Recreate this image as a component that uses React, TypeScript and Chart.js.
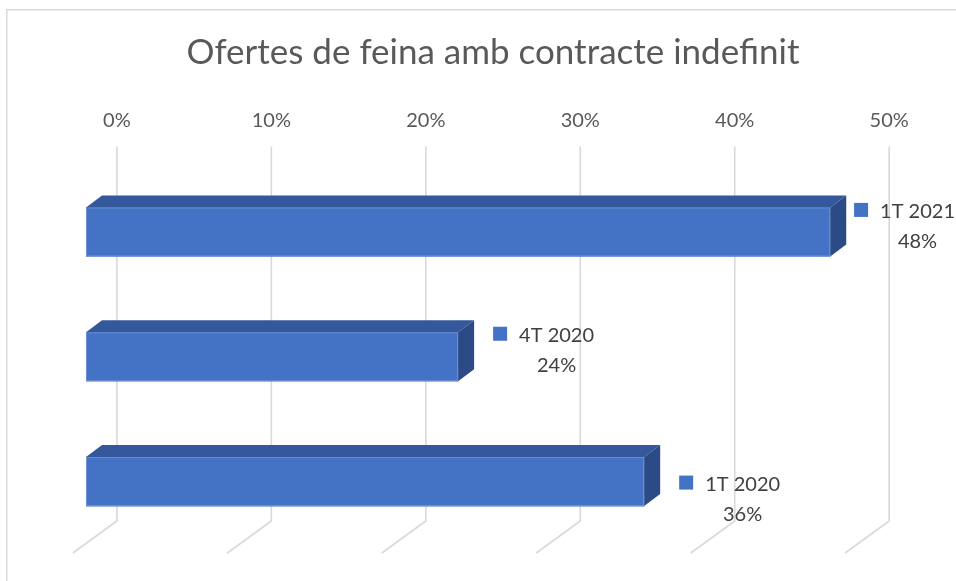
import React, { useEffect, useRef } from 'react';
import { Chart, registerables } from 'chart.js';

Chart.register(...registerables);

// ---- data ----
const CATEGORIES = ['1T 2021', '4T 2020', '1T 2020'];
const VALUES = [48, 24, 36];
const TICKS = [0, 10, 20, 30, 40, 50];
const TITLE = 'Ofertes de feina amb contracte indefinit';

// ---- style ----
const FONT = 'Lato, "Open Sans", sans-serif';
const FRONT = '#4472C4';
const TOP_FACE = '#34589B';
const SIDE_FACE = '#2B4A86';
const GRID = '#D9D9D9';
const BAR_DX = 16;
const BAR_DY = 12;
const BACK_DY = 23;
const FLOOR_DX = 44;
const FLOOR_DY = 32;
const LABEL_NUDGE = [1, 0, 24];

const W = 956;
const H = 581;

const borderPlugin = {
  id: 'border',
  beforeDraw(chart: any) {
    const ctx = chart.ctx;
    ctx.save();
    ctx.strokeStyle = '#D9D9D9';
    ctx.lineWidth = 1.5;
    ctx.beginPath();
    ctx.moveTo(6.75, H);
    ctx.lineTo(6.75, 9.75);
    ctx.lineTo(W, 9.75);
    ctx.stroke();
    ctx.restore();
  },
};

const gridPlugin = {
  id: 'grid3d',
  beforeDatasetsDraw(chart: any) {
    const ctx = chart.ctx;
    const s = chart.scales.x2;
    const area = chart.chartArea;
    ctx.save();
    ctx.strokeStyle = GRID;
    ctx.lineWidth = 1.6;
    s.ticks.forEach((t: any) => {
      const px = s.getPixelForValue(t.value);
      const y0 = area.top - BACK_DY;
      const y1 = area.bottom - BACK_DY;
      ctx.beginPath();
      ctx.moveTo(px, y0);
      ctx.lineTo(px, y1);
      ctx.lineTo(px - FLOOR_DX, y1 + FLOOR_DY);
      ctx.stroke();
    });
    ctx.restore();
  },
};

const bar3dPlugin = {
  id: 'bar3d',
  afterDatasetsDraw(chart: any) {
    const ctx = chart.ctx;
    const meta = chart.getDatasetMeta(0);
    ctx.save();
    meta.data.forEach((bar: any, i: number) => {
      const { x, y, base, height } = bar.getProps(['x', 'y', 'base', 'height'], true);
      const top = y - height / 2;
      const bottom = y + height / 2;
      // top face
      ctx.fillStyle = TOP_FACE;
      ctx.beginPath();
      ctx.moveTo(base, top);
      ctx.lineTo(base + BAR_DX, top - BAR_DY);
      ctx.lineTo(x + BAR_DX, top - BAR_DY);
      ctx.lineTo(x, top);
      ctx.closePath();
      ctx.fill();
      // side face
      ctx.fillStyle = SIDE_FACE;
      ctx.beginPath();
      ctx.moveTo(x, top);
      ctx.lineTo(x + BAR_DX, top - BAR_DY);
      ctx.lineTo(x + BAR_DX, bottom - BAR_DY);
      ctx.lineTo(x, bottom);
      ctx.closePath();
      ctx.fill();
      // subtle edge highlight
      ctx.strokeStyle = 'rgba(140,170,225,0.55)';
      ctx.lineWidth = 1;
      ctx.strokeRect(base + 0.5, top + 0.5, x - base - 1, height - 1);

      // data label
      ctx.font = `20px ${FONT}`;
      const name = CATEGORIES[i];
      const w1 = ctx.measureText(name).width;
      const blockW = 14 + 12 + w1;
      const sqX = Math.min(x + 35, chart.width - blockW - 1);
      const textX = sqX + 26;
      const b1 = y - 15 + LABEL_NUDGE[i];
      const b2 = b1 + 30;
      ctx.fillStyle = FRONT;
      ctx.fillRect(sqX, b1 - 15, 14, 14);
      ctx.fillStyle = '#404040';
      ctx.textBaseline = 'alphabetic';
      ctx.textAlign = 'left';
      ctx.fillText(name, textX, b1);
      ctx.textAlign = 'center';
      ctx.fillText(VALUES[i] + '%', textX + w1 / 2, b2);
    });
    ctx.restore();
  },
};

export default function App() {
  const ref = useRef<HTMLCanvasElement | null>(null);
  useEffect(() => {
    if (!ref.current) return;
    const chart = new Chart(ref.current, {
      type: 'bar',
      data: {
        labels: CATEGORIES,
        datasets: [
          {
            data: VALUES,
            backgroundColor: FRONT,
            borderWidth: 0,
            barThickness: 49,
            xAxisID: 'x',
          } as any,
        ],
      },
      options: {
        indexAxis: 'y',
        animation: false,
        responsive: false,
        devicePixelRatio: 1,
        layout: { padding: { left: 86, right: 56, top: 0, bottom: 37 } },
        plugins: {
          legend: { display: false },
          tooltip: { enabled: false },
          title: {
            display: true,
            text: TITLE,
            color: '#595959',
            font: { family: FONT, size: 35, weight: 'normal', lineHeight: 1.1 },
            padding: { top: 33, bottom: 0 },
          },
        },
        scales: {
          x: {
            type: 'linear',
            display: false,
            min: 0,
            max: 52.5,
          },
          x2: {
            type: 'linear',
            position: 'top',
            min: -2,
            max: 50.7,
            afterBuildTicks: (scale: any) => {
              scale.ticks = TICKS.map((v) => ({ value: v }));
            },
            grid: { display: false, drawTicks: false },
            border: { display: false },
            ticks: {
              color: '#595959',
              font: { family: FONT, size: 20 },
              padding: 37,
              autoSkip: false,
              maxRotation: 0,
              callback: (v: any) => v + '%',
            },
          },
          y: {
            type: 'category',
            display: false,
          },
        },
      } as any,
      plugins: [borderPlugin, gridPlugin, bar3dPlugin],
    });
    return () => chart.destroy();
  }, []);
  return (
    <div style={{ position: 'fixed', left: 0, top: 0, width: W, height: H, background: '#fff' }}>
      <canvas ref={ref} width={W} height={H} style={{ display: 'block' }} />
    </div>
  );
}
